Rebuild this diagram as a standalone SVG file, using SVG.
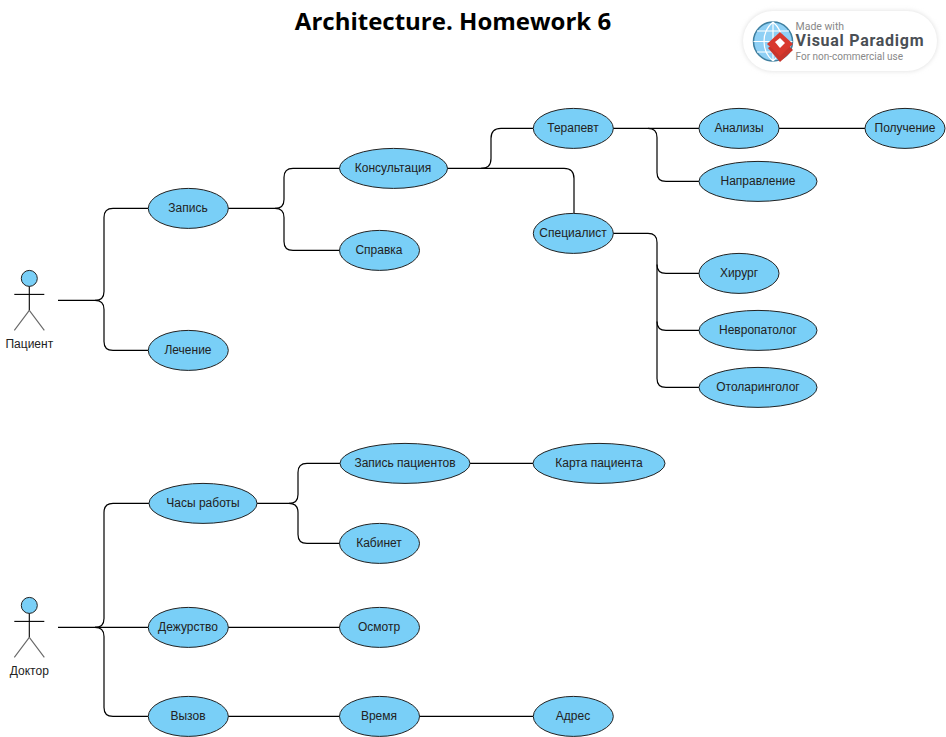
<svg xmlns="http://www.w3.org/2000/svg" width="946" height="737" viewBox="0 0 946 737">
<style>
text{font-family:"Liberation Sans",Arial,sans-serif;font-size:12px;fill:#222;text-anchor:middle}
.title{font-family:"Open Sans","Noto Sans",sans-serif;font-size:24px;font-weight:700;fill:#000}
.n ellipse,.head{fill:#79cff7;stroke:#222;stroke-width:1}
.c path{fill:none;stroke:#000;stroke-width:1.2}
.a line{stroke:#000;stroke-width:1.1}
.a .leg{stroke:#666}
.lg{text-anchor:start;fill:#888;font-family:"Roboto","Liberation Sans",sans-serif;font-size:10.5px}
</style>
<defs>
<filter id="sh" x="-10%" y="-20%" width="120%" height="140%"><feGaussianBlur stdDeviation="2.5"/></filter>
</defs>
<rect width="946" height="737" fill="#fff"/>
<text class="title" x="453" y="30">Architecture. Homework 6</text>
<g id="logo">
<rect x="743" y="11" width="194" height="60" rx="30" fill="#ddd" filter="url(#sh)"/>
<rect x="743" y="11" width="194" height="60" rx="30" fill="#fff"/>
<circle cx="773" cy="41.500" r="19.500" fill="#8fd0f5" stroke="#3f7f9f" stroke-width="1.5"/>
<path d="M773 22V61M753.500 41.500H792.500M757 31H789M757 52H789M773 22C761 32 761 51 773 61M773 22C785 32 785 51 773 61" fill="none" stroke="#fff" stroke-width="1.200"/>
<path d="M768 48L780 62L793 50L781 38Z" fill="#c8352c"/>
<path d="M767 44L780 32L793 44L780 56Z" fill="#d8392e"/>
<path d="M775 42L780 38L785 43L780 48Z" fill="#fff"/>
<text class="lg" x="795.500" y="29.500">Made with</text>
<text class="lg" x="795.500" y="46" textLength="128" style="font-size:16px;font-weight:700;fill:#4a4f55">Visual Paradigm</text>
<text class="lg" x="795.500" y="59.500" style="font-size:10px">For non-commercial use</text>
</g>
<g transform="translate(0 .4)">
<g id="connectors" class="c">
<path d="M58 300H95Q104 300 104 291V217Q104 208 113 208H148"/>
<path d="M95 300Q104 300 104 309V341Q104 350 113 350H148"/>
<path d="M228 208H275Q284 208 284 199V177Q284 168 293 168H340"/>
<path d="M275 208Q284 208 284 217V241Q284 250 293 250H340"/>
<path d="M447 168H481Q491 168 491 158V138Q491 128 501 128H533"/>
<path d="M481 168H564Q574 168 574 178V213"/>
<path d="M613 128H699"/>
<path d="M648 128Q657 128 657 137V172Q657 181 666 181H699"/>
<path d="M779 128H865"/>
<path d="M613 233H648Q657 233 657 242V264Q657 273 666 273H699"/>
<path d="M657 264V321Q657 330 666 330H699"/>
<path d="M657 321V378Q657 387 666 387H699"/>
<path d="M58 627H95Q104 627 104 618V512Q104 503 113 503H149"/>
<path d="M95 627H148"/>
<path d="M95 627Q104 627 104 636V707Q104 716 113 716H148"/>
<path d="M257 503H289Q298 503 298 494V472Q298 463 307 463H340"/>
<path d="M289 503Q298 503 298 512V534Q298 543 307 543H340"/>
<path d="M470 463H533"/>
<path d="M228 627H340"/>
<path d="M228 716H340"/>
<path d="M419 716H533"/>
</g>
<g id="patient" class="a"><circle class="head" cx="29.300" cy="278" r="8"/><line x1="29.300" y1="286" x2="29.300" y2="310"/><line x1="14.300" y1="294" x2="44.300" y2="294"/><line class="leg" x1="29.300" y1="310" x2="14.300" y2="330"/><line class="leg" x1="29.300" y1="310" x2="44.300" y2="330"/><text x="29.300" y="347.500">Пациент</text></g>
<g id="doctor" class="a"><circle class="head" cx="29.300" cy="605" r="8"/><line x1="29.300" y1="613" x2="29.300" y2="637"/><line x1="14.300" y1="621" x2="44.300" y2="621"/><line class="leg" x1="29.300" y1="637" x2="14.300" y2="657"/><line class="leg" x1="29.300" y1="637" x2="44.300" y2="657"/><text x="29.300" y="674.500">Доктор</text></g>
<g id="n1" class="n"><ellipse cx="188.300" cy="208" rx="40" ry="20"/><text x="188" y="212">Запись</text></g>
<g id="n2" class="n"><ellipse cx="188.300" cy="350" rx="40" ry="20"/><text x="188" y="354">Лечение</text></g>
<g id="n3" class="n"><ellipse cx="393.500" cy="168" rx="54" ry="20"/><text x="393" y="172">Консультация</text></g>
<g id="n4" class="n"><ellipse cx="379.500" cy="250" rx="40" ry="20"/><text x="379" y="254">Справка</text></g>
<g id="n5" class="n"><ellipse cx="573.300" cy="128" rx="40" ry="20"/><text x="573" y="132">Терапевт</text></g>
<g id="n6" class="n"><ellipse cx="573.300" cy="233" rx="40" ry="20"/><text x="573" y="237">Специалист</text></g>
<g id="n7" class="n"><ellipse cx="739" cy="128" rx="40" ry="20"/><text x="739" y="132">Анализы</text></g>
<g id="n8" class="n"><ellipse cx="758" cy="181" rx="59" ry="20"/><text x="758" y="185">Направление</text></g>
<g id="n9" class="n"><ellipse cx="905" cy="128" rx="40" ry="20"/><text x="905" y="132">Получение</text></g>
<g id="n10" class="n"><ellipse cx="739" cy="273" rx="40" ry="20"/><text x="739" y="277">Хирург</text></g>
<g id="n11" class="n"><ellipse cx="758" cy="330" rx="59" ry="20"/><text x="758" y="334">Невропатолог</text></g>
<g id="n12" class="n"><ellipse cx="758" cy="387" rx="59" ry="20"/><text x="758" y="391">Отоларинголог</text></g>
<g id="n13" class="n"><ellipse cx="203" cy="503" rx="54" ry="20"/><text x="203" y="507">Часы работы</text></g>
<g id="n14" class="n"><ellipse cx="405" cy="463" rx="65" ry="20"/><text x="405" y="467">Запись пациентов</text></g>
<g id="n15" class="n"><ellipse cx="599" cy="463" rx="66" ry="20"/><text x="599" y="467">Карта пациента</text></g>
<g id="n16" class="n"><ellipse cx="379.500" cy="543" rx="40" ry="20"/><text x="379" y="547">Кабинет</text></g>
<g id="n17" class="n"><ellipse cx="188.300" cy="627" rx="40" ry="20"/><text x="188" y="631">Дежурство</text></g>
<g id="n18" class="n"><ellipse cx="379.500" cy="627" rx="40" ry="20"/><text x="379" y="631">Осмотр</text></g>
<g id="n19" class="n"><ellipse cx="188.300" cy="716" rx="40" ry="20"/><text x="188" y="720">Вызов</text></g>
<g id="n20" class="n"><ellipse cx="379.500" cy="716" rx="40" ry="20"/><text x="379" y="720">Время</text></g>
<g id="n21" class="n"><ellipse cx="573.300" cy="716" rx="40" ry="20"/><text x="573" y="720">Адрес</text></g>
</g>
</svg>
